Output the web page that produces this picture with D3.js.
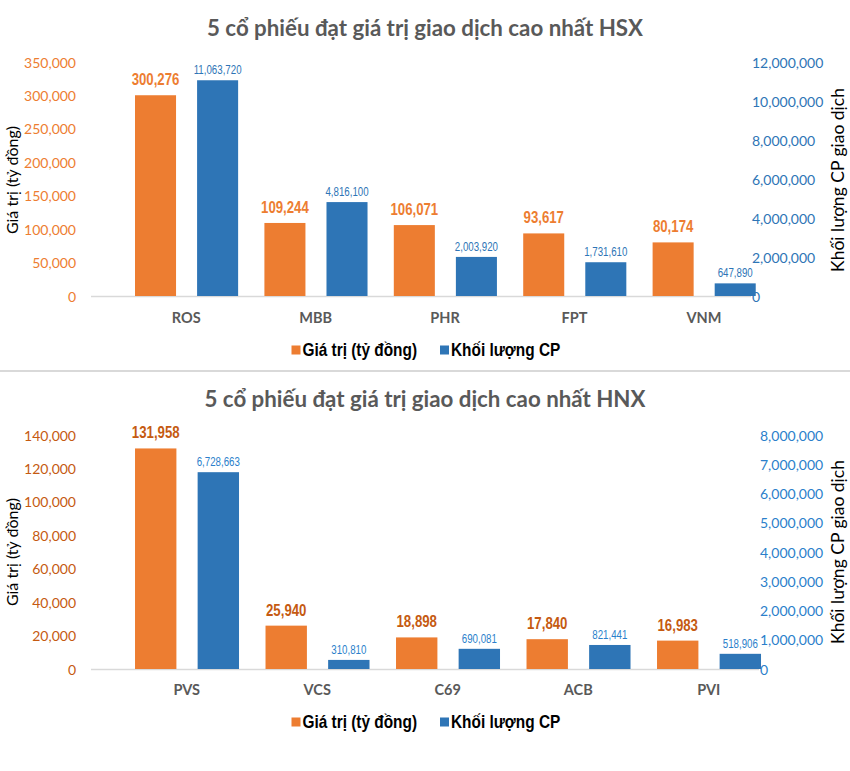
<!DOCTYPE html>
<html>
<head>
<meta charset="utf-8">
<script src="https://cdn.jsdelivr.net/npm/d3@7/dist/d3.min.js"></script>
<style>
  html, body { margin: 0; padding: 0; background: #ffffff; }
  svg { display: block; }
</style>
</head>
<body>
<svg id="chart" width="850" height="771"></svg>
<script>
// ---------- DATA ----------
const hsxTitle = "5 cổ phiếu đạt giá trị giao dịch cao nhất HSX";
const hsxCategories = ["ROS", "MBB", "PHR", "FPT", "VNM"];
const hsxValue = [300276, 109244, 106071, 93617, 80174];
const hsxVolume = [11063720, 4816100, 2003920, 1731610, 647890];
const hsxLeftTicks = [0, 50000, 100000, 150000, 200000, 250000, 300000, 350000];
const hsxRightTicks = [0, 2000000, 4000000, 6000000, 8000000, 10000000, 12000000];

const hnxTitle = "5 cổ phiếu đạt giá trị giao dịch cao nhất HNX";
const hnxCategories = ["PVS", "VCS", "C69", "ACB", "PVI"];
const hnxValue = [131958, 25940, 18898, 17840, 16983];
const hnxVolume = [6728663, 310810, 690081, 821441, 518906];
const hnxLeftTicks = [0, 20000, 40000, 60000, 80000, 100000, 120000, 140000];
const hnxRightTicks = [0, 1000000, 2000000, 3000000, 4000000, 5000000, 6000000, 7000000, 8000000];

const seriesNames = ["Giá trị (tỷ đồng)", "Khối lượng CP"];
const leftAxisTitle = "Giá trị (tỷ đồng)";
const rightAxisTitle = "Khối lượng CP giao dịch";

// ---------- DRAW ----------
const svg = d3.select("#chart");
const fmt = d3.format(",");
const FONT = "Lato, 'Open Sans', sans-serif";
const ARIAL = "'Liberation Sans', Arial, sans-serif";

// narrow text: Liberation Sans compressed horizontally (Arial Narrow look)
function narrowText(parent, x, y, sx, opts) {
  const t = parent.append("text")
    .attr("transform", d => {
      const xx = typeof x === "function" ? x(d) : x;
      const yy = typeof y === "function" ? y(d) : y;
      return `translate(${xx},${yy}) scale(${sx},1)`;
    })
    .attr("font-family", ARIAL)
    .attr("font-size", opts.size)
    .attr("font-weight", opts.weight || "normal")
    .attr("fill", opts.fill)
    .attr("text-anchor", opts.anchor || "start");
  return t;
}

function drawChart(cfg) {
  const g = svg.append("g");
  const x = d3.scaleBand().domain(cfg.categories).range(cfg.xRange).paddingInner(0).paddingOuter(0);
  const bw = x.bandwidth();
  const inner = d3.scaleBand().domain(["value", "volume"])
    .range([bw * 0.1036, bw * 0.9005]).paddingInner(0.339).paddingOuter(0);
  const yL = d3.scaleLinear().domain([0, d3.max(cfg.leftTicks)]).range([cfg.yBottom, cfg.yTop]);
  const yR = d3.scaleLinear().domain([0, d3.max(cfg.rightTicks)]).range([cfg.yBottom, cfg.yTop]);

  // title
  g.append("text").attr("x", 425).attr("y", cfg.titleY)
    .attr("text-anchor", "middle").attr("font-family", FONT).attr("font-weight", "bold")
    .attr("font-size", 22.3).attr("fill", "#595959").text(cfg.title);

  // left axis
  const axL = g.append("g").attr("transform", `translate(${cfg.leftAxisX},0)`)
    .call(d3.axisLeft(yL).tickValues(cfg.leftTicks).tickFormat(fmt).tickSize(0).tickPadding(0));
  axL.select(".domain").remove();
  axL.selectAll("text").attr("font-family", FONT).attr("font-size", 14)
    .attr("fill", cfg.orangeText).attr("dy", "0.36em");

  // right axis
  const axR = g.append("g").attr("transform", `translate(${cfg.rightAxisX},0)`)
    .call(d3.axisRight(yR).tickValues(cfg.rightTicks).tickFormat(fmt).tickSize(0).tickPadding(0));
  axR.select(".domain").remove();
  axR.selectAll("text").attr("font-family", FONT).attr("font-size", 14)
    .attr("fill", cfg.blueText).attr("dy", "0.36em");

  // axis titles
  g.append("text").attr("transform", `translate(18,${cfg.titleMidY}) rotate(-90)`)
    .attr("text-anchor", "middle").attr("font-family", FONT).attr("font-size", 16)
    .attr("fill", "#000").text(leftAxisTitle);
  g.append("text").attr("transform", `translate(844,${cfg.titleMidY}) rotate(-90)`)
    .attr("text-anchor", "middle").attr("font-family", FONT).attr("font-size", 17.5)
    .attr("fill", "#000").text(rightAxisTitle);

  // baseline
  g.append("line").attr("x1", cfg.baseX1).attr("x2", cfg.baseX2)
    .attr("y1", cfg.yBottom + 0.5).attr("y2", cfg.yBottom + 0.5)
    .attr("stroke", "#d9d9d9").attr("stroke-width", 1.5);

  const rows = cfg.categories.map((c, i) => ({ c, value: cfg.value[i], volume: cfg.volume[i] }));

  const cat = g.selectAll(".cat").data(rows).join("g")
    .attr("transform", d => `translate(${x(d.c)},0)`);

  // orange bars
  cat.append("rect").attr("x", inner("value")).attr("width", inner.bandwidth())
    .attr("y", d => yL(d.value)).attr("height", d => yL(0) - yL(d.value))
    .attr("fill", "#ED7D31");
  // blue bars
  cat.append("rect").attr("x", inner("volume")).attr("width", inner.bandwidth())
    .attr("y", d => yR(d.volume)).attr("height", d => yR(0) - yR(d.volume))
    .attr("fill", "#2E75B6");

  // labels
  narrowText(cat, inner("value") + inner.bandwidth() / 2, d => yL(d.value) - 10, 0.8,
    { size: 16.5, weight: "bold", fill: cfg.orangeLabel, anchor: "middle" })
    .text(d => fmt(d.value));
  narrowText(cat, inner("volume") + inner.bandwidth() / 2, d => yR(d.volume) - 6, 0.72,
    { size: 13.5, fill: cfg.blueText, anchor: "middle" })
    .text(d => fmt(d.volume));

  // category labels
  cat.append("text").attr("x", bw / 2).attr("y", cfg.catY).attr("text-anchor", "middle")
    .attr("font-family", FONT).attr("font-weight", "bold").attr("font-size", 14.5)
    .attr("fill", "#595959").text(d => d.c);

  // legend
  const leg = g.append("g");
  const legX = [291.5, 440];
  const legColors = ["#ED7D31", "#2E75B6"];
  seriesNames.forEach((n, i) => {
    leg.append("rect").attr("x", legX[i]).attr("y", cfg.legendY - 4.5)
      .attr("width", 9).attr("height", 9).attr("fill", legColors[i]);
    narrowText(leg, legX[i] + 11, cfg.legendY + 6, 0.88,
      { size: 17.5, weight: "bold", fill: "#000" }).text(n);
  });
}

drawChart({
  title: hsxTitle, categories: hsxCategories, value: hsxValue, volume: hsxVolume,
  leftTicks: hsxLeftTicks, rightTicks: hsxRightTicks,
  titleY: 35.5, yTop: 62, yBottom: 296, xRange: [121.6, 768.6],
  leftAxisX: 76, rightAxisX: 752, baseX1: 91, baseX2: 751,
  titleMidY: 180, catY: 323, legendY: 350,
  orangeText: "#ED7D31", orangeLabel: "#ED7D31", blueText: "#2E75B6"
});

// separator
svg.append("line").attr("x1", 0).attr("x2", 850).attr("y1", 371).attr("y2", 371)
  .attr("stroke", "#d9d9d9").attr("stroke-width", 2);

drawChart({
  title: hnxTitle, categories: hnxCategories, value: hnxValue, volume: hnxVolume,
  leftTicks: hnxLeftTicks, rightTicks: hnxRightTicks,
  titleY: 406.5, yTop: 435, yBottom: 669, xRange: [121.5, 774],
  leftAxisX: 76, rightAxisX: 760, baseX1: 91, baseX2: 759,
  titleMidY: 552, catY: 695, legendY: 722,
  orangeText: "#C55A11", orangeLabel: "#C55A11", blueText: "#2B7FCB"
});
</script>
</body>
</html>
